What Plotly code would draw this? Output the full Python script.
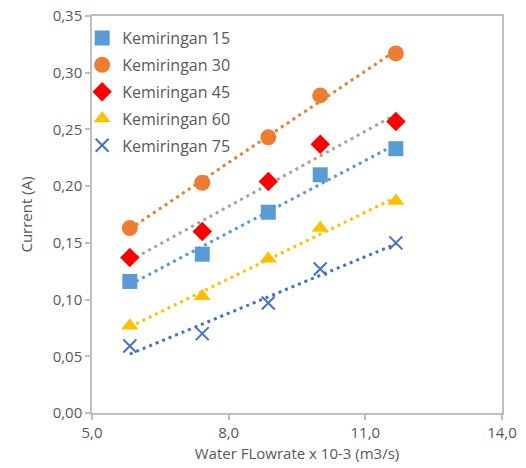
import numpy as np
import plotly.graph_objects as go

flowrate = [5.83, 7.42, 8.87, 10.01, 11.67]
series_names = ["Kemiringan 15", "Kemiringan 30", "Kemiringan 45", "Kemiringan 60", "Kemiringan 75"]
k15 = [0.116, 0.140, 0.177, 0.210, 0.233]
k30 = [0.163, 0.203, 0.243, 0.280, 0.317]
k45 = [0.137, 0.160, 0.204, 0.237, 0.257]
k60 = [0.077, 0.103, 0.136, 0.163, 0.187]
k75 = [0.059, 0.070, 0.097, 0.127, 0.150]
x_ticks = [5.0, 8.0, 11.0, 14.0]
y_ticks = [0.00, 0.05, 0.10, 0.15, 0.20, 0.25, 0.30, 0.35]

values = [k15, k30, k45, k60, k75]
marker_colors = ["#5B9BD5", "#ED7D31", "#FF0000", "#FFC000", "#4472C4"]
trend_colors = ["#5B9BD5", "#ED7D31", "#A5A5A5", "#FFC000", "#4472C4"]
symbols = ["square", "circle", "diamond", "triangle-up", "x-thin"]
sizes = [15, 16, 15, 15, 13]

fig = go.Figure()
x = np.array(flowrate)
for i, (name, ys) in enumerate(zip(series_names, values)):
    slope, icpt = np.polyfit(x, np.array(ys), 1)
    xs = [x.min(), x.max()]
    fig.add_trace(go.Scatter(
        x=xs, y=[slope * v + icpt for v in xs], mode="lines",
        line=dict(color=trend_colors[i], width=3, dash="3px,4px"),
        showlegend=False, hoverinfo="skip", legendgroup=name))
for i, (name, ys) in enumerate(zip(series_names, values)):
    mk = dict(symbol=symbols[i], size=sizes[i], color=marker_colors[i])
    if symbols[i] == "x-thin":
        mk["line"] = dict(color=marker_colors[i], width=2)
    fig.add_trace(go.Scatter(
        x=flowrate, y=ys, mode="markers", name=name, marker=mk, legendgroup=name))

axis_common = dict(
    showgrid=False, zeroline=False, showline=True, linecolor="#BFBFBF", linewidth=1.5,
    mirror=True, ticks="outside", ticklen=5, tickcolor="#BFBFBF", tickwidth=1.5,
    tickfont=dict(family="Open Sans", size=15, color="#595959"), automargin=False,
)
fig.update_layout(
    width=526, height=468,
    margin=dict(l=92, r=24, t=16, b=55),
    paper_bgcolor="white", plot_bgcolor="white",
    separators=",.",
    font=dict(family="Open Sans", color="#595959"),
    xaxis=dict(range=[5, 14], tickvals=x_ticks, tickformat=".1f",
               title=dict(text="Water FLowrate x 10-3 (m3/s)", font=dict(size=15, color="#595959"), standoff=8),
               **axis_common),
    yaxis=dict(range=[0, 0.35], tickvals=y_ticks, tickformat=".2f",
               title=dict(text="Current (A)", font=dict(size=15, color="#595959"), standoff=16),
               **axis_common),
    legend=dict(x=-0.024, y=0.987, xanchor="left", yanchor="top", bgcolor="rgba(0,0,0,0)",
                font=dict(family="Open Sans", size=16, color="#595959"),
                tracegroupgap=3, itemwidth=30),
    showlegend=True,
)
fig.write_html("out.html", config={"displayModeBar": False},
               post_script="document.body.style.margin='0px';")
